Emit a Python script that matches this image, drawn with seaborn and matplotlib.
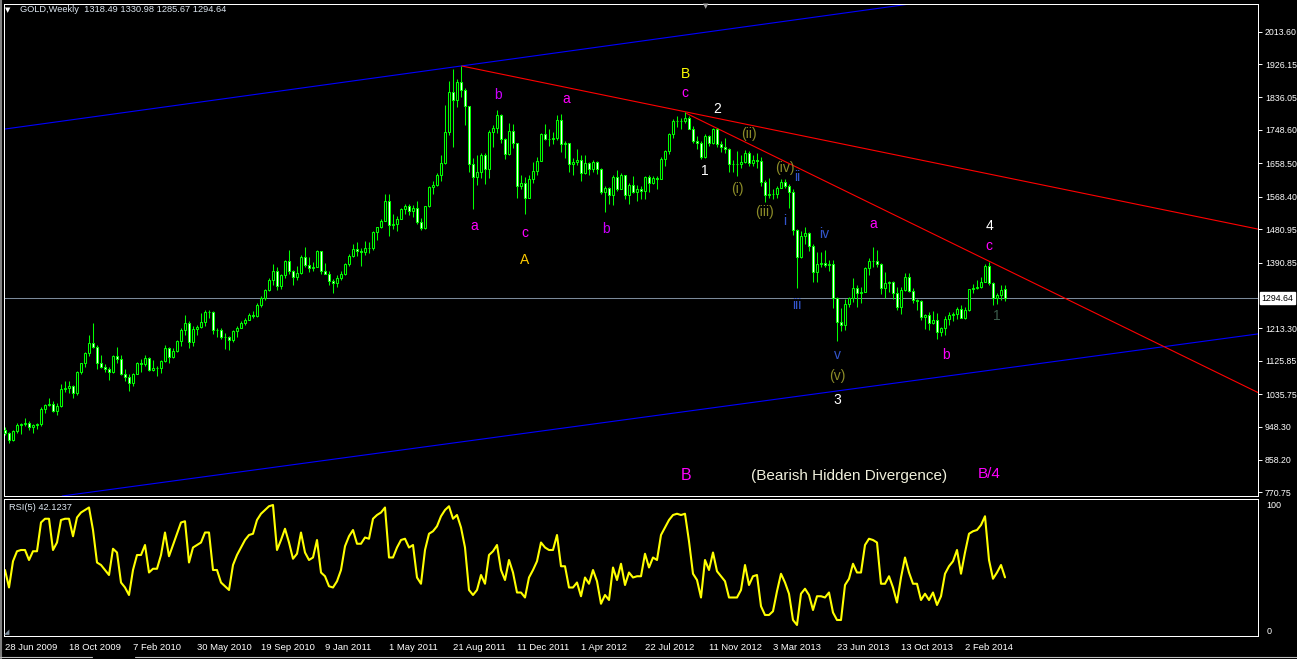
import numpy as np
import pandas as pd
import matplotlib
matplotlib.use("Agg")
import matplotlib.pyplot as plt
from matplotlib.lines import Line2D
import seaborn as sns

sns.set_theme(style="dark", rc={"axes.facecolor": "black", "figure.facecolor": "black"})
plt.rcParams['font.family'] = ['Liberation Sans', 'DejaVu Sans']

# ---------------- data (weekly GOLD candles) ----------------
opens = [
 940, 930, 912, 937, 953, 954, 958, 948, 953, 955,
 996, 1006, 1009, 991, 1004, 1050, 1052, 1057, 1040, 1095,
 1119, 1146, 1175, 1162, 1120, 1110, 1104, 1096, 1138, 1131,
 1091, 1083, 1066, 1091, 1119, 1118, 1134, 1102, 1107, 1105,
 1125, 1161, 1136, 1152, 1180, 1209, 1228, 1176, 1212, 1217,
 1229, 1257, 1256, 1210, 1209, 1189, 1189, 1181, 1205, 1215,
 1228, 1237, 1248, 1246, 1275, 1296, 1317, 1345, 1369, 1327,
 1357, 1394, 1367, 1353, 1362, 1406, 1385, 1375, 1380, 1421,
 1369, 1361, 1342, 1336, 1349, 1360, 1388, 1409, 1428, 1421,
 1419, 1429, 1430, 1474, 1486, 1504, 1556, 1491, 1494, 1509,
 1536, 1542, 1530, 1539, 1500, 1484, 1542, 1594, 1601, 1628,
 1658, 1744, 1852, 1828, 1877, 1856, 1812, 1657, 1622, 1636,
 1682, 1642, 1744, 1754, 1788, 1724, 1683, 1746, 1712, 1598,
 1606, 1566, 1617, 1639, 1665, 1738, 1725, 1725, 1726, 1775,
 1710, 1712, 1657, 1662, 1668, 1631, 1659, 1642, 1663, 1644,
 1580, 1592, 1572, 1622, 1590, 1627, 1572, 1600, 1582, 1590,
 1583, 1621, 1605, 1620, 1616, 1671, 1692, 1738, 1772, 1773,
 1772, 1780, 1752, 1718, 1712, 1676, 1731, 1714, 1751, 1711,
 1703, 1696, 1657, 1656, 1657, 1662, 1686, 1658, 1667, 1666,
 1609, 1572, 1576, 1577, 1592, 1608, 1596, 1581, 1478, 1405,
 1462, 1470, 1436, 1365, 1386, 1390, 1385, 1388, 1296, 1230,
 1223, 1280, 1294, 1322, 1309, 1312, 1375, 1396, 1395, 1388,
 1322, 1336, 1338, 1309, 1272, 1316, 1352, 1314, 1289, 1288,
 1244, 1250, 1228, 1235, 1203, 1213, 1238, 1250, 1252, 1266,
 1240, 1262, 1319, 1323, 1326, 1339, 1382, 1336, 1294, 1303,
 1318.49]
highs = [
 947, 934, 940, 958, 957, 972, 962, 955, 959, 1000,
 1010, 1024, 1017, 1011, 1062, 1071, 1070, 1061, 1099, 1120,
 1150, 1195, 1227, 1168, 1140, 1118, 1110, 1140, 1162, 1140,
 1103, 1089, 1094, 1123, 1131, 1141, 1136, 1128, 1112, 1127,
 1167, 1164, 1160, 1182, 1213, 1250, 1232, 1219, 1223, 1254,
 1264, 1262, 1261, 1215, 1215, 1201, 1193, 1208, 1219, 1234,
 1241, 1255, 1260, 1282, 1300, 1320, 1349, 1387, 1378, 1361,
 1398, 1424, 1370, 1381, 1411, 1432, 1407, 1392, 1424, 1422,
 1390, 1368, 1346, 1357, 1369, 1390, 1414, 1440, 1445, 1431,
 1448, 1447, 1476, 1488, 1509, 1576, 1577, 1522, 1516, 1538,
 1549, 1548, 1546, 1556, 1510, 1544, 1597, 1610, 1632, 1682,
 1815, 1880, 1913, 1885, 1921, 1862, 1814, 1672, 1680, 1686,
 1686, 1748, 1763, 1803, 1792, 1726, 1767, 1764, 1714, 1627,
 1622, 1626, 1661, 1675, 1741, 1764, 1750, 1744, 1790, 1792,
 1718, 1713, 1673, 1697, 1681, 1680, 1662, 1667, 1665, 1646,
 1598, 1595, 1627, 1641, 1631, 1628, 1605, 1625, 1600, 1598,
 1625, 1628, 1623, 1624, 1675, 1694, 1741, 1778, 1787, 1781,
 1796, 1787, 1760, 1733, 1720, 1737, 1736, 1755, 1755, 1720,
 1726, 1699, 1667, 1693, 1682, 1694, 1693, 1680, 1685, 1675,
 1613, 1619, 1590, 1597, 1616, 1616, 1604, 1588, 1480, 1476,
 1487, 1474, 1440, 1418, 1420, 1424, 1398, 1397, 1297, 1268,
 1293, 1298, 1348, 1330, 1324, 1380, 1402, 1433, 1424, 1389,
 1366, 1341, 1340, 1326, 1325, 1362, 1362, 1322, 1293, 1290,
 1253, 1256, 1261, 1255, 1217, 1247, 1256, 1256, 1272, 1275,
 1271, 1320, 1332, 1345, 1352, 1386, 1392, 1337, 1308, 1331,
 1330.98]
lows = [
 925, 904, 910, 931, 927, 950, 940, 930, 941, 949,
 986, 1004, 987, 980, 1000, 1042, 1039, 1025, 1033, 1091,
 1110, 1138, 1160, 1104, 1105, 1095, 1075, 1094, 1121, 1087,
 1072, 1045, 1057, 1090, 1096, 1111, 1097, 1097, 1086, 1094,
 1122, 1121, 1133, 1150, 1165, 1194, 1159, 1166, 1196, 1215,
 1220, 1240, 1198, 1189, 1185, 1157, 1155, 1176, 1190, 1213,
 1222, 1236, 1240, 1243, 1270, 1290, 1313, 1331, 1316, 1320,
 1349, 1361, 1330, 1343, 1361, 1380, 1366, 1368, 1378, 1360,
 1362, 1330, 1308, 1326, 1345, 1358, 1381, 1406, 1408, 1381,
 1411, 1416, 1424, 1452, 1484, 1503, 1462, 1480, 1477, 1508,
 1522, 1520, 1514, 1495, 1478, 1480, 1541, 1577, 1597, 1610,
 1656, 1736, 1702, 1811, 1838, 1761, 1635, 1535, 1600, 1618,
 1603, 1620, 1702, 1740, 1713, 1670, 1680, 1700, 1565, 1590,
 1523, 1564, 1606, 1628, 1665, 1722, 1706, 1710, 1722, 1688,
 1672, 1635, 1627, 1653, 1612, 1630, 1626, 1634, 1630, 1577,
 1527, 1550, 1545, 1583, 1590, 1562, 1549, 1578, 1557, 1562,
 1563, 1582, 1603, 1590, 1615, 1652, 1683, 1728, 1757, 1752,
 1767, 1751, 1714, 1696, 1671, 1672, 1705, 1711, 1702, 1688,
 1687, 1636, 1635, 1625, 1645, 1658, 1651, 1650, 1645, 1598,
 1554, 1565, 1562, 1565, 1591, 1593, 1539, 1465, 1321, 1402,
 1442, 1423, 1338, 1338, 1378, 1378, 1367, 1268, 1180, 1207,
 1210, 1270, 1285, 1270, 1281, 1310, 1357, 1378, 1378, 1306,
 1296, 1310, 1293, 1262, 1251, 1314, 1310, 1281, 1262, 1236,
 1211, 1208, 1224, 1185, 1193, 1195, 1221, 1232, 1238, 1240,
 1238, 1260, 1309, 1320, 1321, 1337, 1330, 1277, 1280, 1290,
 1285.67]
closes = [
 930, 912, 937, 953, 954, 958, 948, 953, 955, 996,
 1006, 1009, 991, 1004, 1050, 1052, 1057, 1040, 1095, 1119,
 1146, 1175, 1162, 1120, 1110, 1104, 1096, 1138, 1131, 1091,
 1083, 1066, 1091, 1119, 1118, 1134, 1102, 1107, 1105, 1125,
 1161, 1136, 1152, 1180, 1209, 1228, 1176, 1212, 1217, 1229,
 1257, 1256, 1210, 1209, 1189, 1189, 1181, 1205, 1215, 1228,
 1237, 1248, 1246, 1275, 1296, 1317, 1345, 1369, 1327, 1357,
 1394, 1367, 1353, 1362, 1406, 1385, 1375, 1380, 1421, 1369,
 1361, 1342, 1336, 1349, 1360, 1388, 1409, 1428, 1421, 1419,
 1429, 1430, 1474, 1486, 1504, 1556, 1491, 1494, 1509, 1536,
 1542, 1530, 1539, 1500, 1484, 1542, 1594, 1601, 1628, 1658,
 1744, 1852, 1828, 1877, 1856, 1812, 1657, 1622, 1636, 1682,
 1642, 1744, 1754, 1788, 1724, 1683, 1746, 1712, 1598, 1606,
 1566, 1617, 1639, 1665, 1738, 1725, 1725, 1726, 1775, 1710,
 1712, 1657, 1662, 1668, 1631, 1659, 1642, 1663, 1644, 1580,
 1592, 1572, 1622, 1590, 1627, 1572, 1600, 1582, 1590, 1583,
 1621, 1605, 1620, 1616, 1671, 1692, 1738, 1772, 1773, 1772,
 1780, 1752, 1718, 1712, 1676, 1731, 1714, 1751, 1711, 1703,
 1696, 1657, 1656, 1657, 1662, 1686, 1658, 1667, 1666, 1609,
 1572, 1576, 1577, 1592, 1608, 1596, 1581, 1478, 1405, 1462,
 1470, 1436, 1365, 1386, 1390, 1385, 1388, 1296, 1230, 1223,
 1280, 1294, 1322, 1309, 1312, 1375, 1396, 1395, 1388, 1322,
 1336, 1338, 1309, 1272, 1316, 1352, 1314, 1289, 1288, 1244,
 1250, 1228, 1235, 1203, 1213, 1238, 1250, 1252, 1266, 1240,
 1262, 1319, 1323, 1326, 1339, 1382, 1336, 1294, 1303, 1318,
 1294.64]
rsi5 = [
 48, 34, 55, 63, 64, 64, 56, 63, 63, 86,
 89, 89, 64, 70, 88, 89, 89, 75, 90, 94,
 96, 98, 80, 54, 52, 48, 44, 65, 62, 38,
 34, 28, 48, 60, 60, 68, 46, 49, 49, 60,
 78, 59, 68, 77, 86, 87, 54, 66, 68, 70,
 78, 78, 48, 48, 38, 35, 32, 52, 60, 66,
 72, 76, 77, 88, 93, 96, 99, 100, 64, 72,
 81, 70, 57, 61, 78, 62, 56, 58, 72, 46,
 43, 35, 34, 39, 48, 67, 75, 80, 69, 69,
 74, 73, 89, 92, 94, 98, 58, 58, 66, 72,
 73, 66, 68, 42, 37, 64, 77, 79, 83, 91,
 96, 99, 89, 92, 82, 66, 32, 28, 32, 44,
 37, 60, 63, 68, 48, 40, 56, 46, 30, 30,
 26, 42, 48, 55, 70, 66, 64, 64, 76, 51,
 51, 34, 34, 38, 27, 42, 37, 48, 39, 21,
 28, 24, 50, 40, 53, 36, 46, 42, 43, 43,
 61, 50, 58, 56, 76, 82, 88, 92, 93, 92,
 93, 71, 45, 40, 26, 56, 48, 62, 47, 43,
 39, 26, 26, 26, 32, 52, 36, 43, 44, 19,
 12, 12, 15, 31, 45, 38, 29, 8, 4, 29,
 33, 28, 16, 27, 27, 26, 30, 14, 8, 8,
 36, 41, 53, 46, 46, 68, 73, 72, 70, 37,
 37, 43, 34, 22, 42, 58, 46, 37, 37, 24,
 29, 24, 30, 20, 27, 45, 51, 55, 64, 45,
 62, 77, 79, 80, 84, 91, 56, 41, 46, 52,
 42.12]
date_labels = ["28 Jun 2009", "18 Oct 2009", "7 Feb 2010", "30 May 2010", "19 Sep 2010",
               "9 Jan 2011", "1 May 2011", "21 Aug 2011", "11 Dec 2011", "1 Apr 2012",
               "22 Jul 2012", "11 Nov 2012", "3 Mar 2013", "23 Jun 2013", "13 Oct 2013",
               "2 Feb 2014"]
price_ticks = [2013.60, 1926.15, 1836.05, 1748.60, 1658.50, 1568.40, 1480.95, 1390.85,
               1213.30, 1125.85, 1035.75, 948.30, 858.20, 770.75]
last_price = 1294.64

df = pd.DataFrame({"week": np.arange(len(closes)), "open": opens, "high": highs,
                   "low": lows, "close": closes, "rsi": rsi5})

# ---------------- layout ----------------
W, H = 1297, 659
fig = plt.figure(figsize=(W / 100, H / 100), dpi=100, facecolor="black")

def rect(x0, y0, x1, y1):
    return [x0 / W, 1 - y1 / H, (x1 - x0) / W, (y1 - y0) / H]

ax = fig.add_axes(rect(4, 4, 1258, 496))
ax2 = fig.add_axes(rect(4, 499, 1258, 636))
XLIM = (-0.25, 313.25)
for a in (ax, ax2):
    a.set_facecolor("black")
    a.set_xlim(*XLIM)
    a.grid(False)
    for s in a.spines.values():
        s.set_color("white")
        s.set_linewidth(0.72)
ax.set_ylim(760.9, 2088.3)
ax2.set_ylim(-4.8, 104.8)

GREEN = "#00ff00"
# candles
up = df["close"] >= df["open"]
ax.vlines(df["week"], df["low"], df["high"], color=GREEN, lw=0.75, zorder=3)
ax.bar(df["week"], df["close"] - df["open"], bottom=df["open"], width=0.5,
       color=np.where(up, "black", "white"), edgecolor=GREEN, linewidth=0.75, zorder=4)

# current price line
ax.axhline(last_price, color="#7b8a9a", lw=0.75, zorder=2)

# channel lines (blue) and trend lines (red)
ax.axline((0, 1751), (114, 1921), color="#0000ff", lw=0.8, zorder=2)
ax.axline((0, 740), (211.25, 1049), color="#0000ff", lw=0.8, zorder=2)
red1 = [(114.2, 1921), (313.25, 1481)]
red2 = [(170.4, 1793), (313.25, 1040)]
for seg in (red1, red2):
    ax.plot([seg[0][0], seg[1][0]], [seg[0][1], seg[1][1]], color="#ff0000", lw=0.8, zorder=2)

# wave labels
MAG = "#ff00ff"
PUR = "#cc00ff"
OLV = "#8c8c28"
BLU = "#3355cc"
WHT = "#ffffff"
wave_labels = [
    ("a", 117.25, 1489, MAG), ("b", 123.2, 1843, PUR), ("c", 130, 1470, MAG),
    ("a", 140.2, 1832, MAG), ("b", 150.2, 1481, PUR), ("A", 130, 1398, "#ffcc00"),
    ("B", 170, 1900, "#ffff00"), ("c", 170, 1848, MAG), ("2", 178, 1805, WHT),
    ("1", 175, 1639, WHT), ("(ii)", 186, 1738, OLV), ("(i)", 183, 1588, OLV),
    ("(iv)", 195, 1645, OLV), ("(iii)", 190, 1527, OLV), ("ii", 198, 1621, BLU),
    ("i", 195, 1503, BLU), ("iv", 204.8, 1468, BLU), ("iii", 198, 1276, BLU),
    ("v", 208, 1141, BLU), ("(v)", 208, 1085, OLV), ("3", 208, 1020, WHT),
    ("a", 217, 1495, MAG), ("b", 235.2, 1141, MAG), ("4", 246, 1490, WHT),
    ("c", 246, 1435, MAG), ("1", 248, 1246, "#3c5c4c"),
]
for txt, xi, yp, col in wave_labels:
    ax.text(xi, yp, txt, color=col, fontsize=10, ha="center", va="center", zorder=5)

ax.text(170.25, 815, "B", color=MAG, fontsize=11.5, ha="center", va="center")
ax.text(211, 815, "(Bearish Hidden Divergence)", color="#f0f0dc", fontsize=11, ha="center", va="center")
ax.text(246, 821, "B/4", color=MAG, fontsize=11, ha="center", va="center")

# price axis (right)
ax.yaxis.tick_right()
ax.set_yticks(price_ticks)
ax.set_yticklabels([f"{v:.2f}" for v in price_ticks])
ax.tick_params(axis="y", colors="white", labelcolor="white", labelsize=6.3, length=3,
               width=0.7, pad=2, direction="out", right=True, left=False)
ax.set_xticks([])
ax.annotate(f"{last_price:.2f}", xy=(1.0, last_price), xycoords=("axes fraction", "data"),
            xytext=(2.5, 0), textcoords="offset points", ha="left", va="center",
            fontsize=6.3, color="black",
            bbox=dict(boxstyle="square,pad=0.15", fc="white", ec="white"), annotation_clip=False)

# RSI panel
sns.lineplot(data=df, x="week", y="rsi", ax=ax2, color="#ffff00", lw=1.5)
ax2.set_xlabel("")
ax2.set_ylabel("")
ax2.yaxis.tick_right()
ax2.set_yticks([0, 100])
ax2.set_yticklabels(["0", "100"])
ax2.tick_params(axis="y", colors="black", labelcolor="white", labelsize=6.5, length=3,
                pad=3, right=True, left=False)
ax2.set_xticks(np.arange(len(date_labels)) * 16)
ax2.set_xticklabels(date_labels)
ax2.tick_params(axis="x", colors="white", labelcolor="white", labelsize=6.8, length=3,
                width=0.7, pad=2, direction="out")
for lab in ax2.get_xticklabels():
    lab.set_horizontalalignment("left")

# header texts
fig.text(8 / W, 1 - 10 / H, "▼", color="white", fontsize=5, ha="center", va="center",
         family="DejaVu Sans")
fig.text(20 / W, 1 - 10 / H, "GOLD,Weekly  1318.49 1330.98 1285.67 1294.64",
         color="#dce6f0", fontsize=6.7, ha="left", va="center")
fig.text(9 / W, 1 - 507 / H, "RSI(5) 42.1237", color="#dce6f0", fontsize=6.7,
         ha="left", va="center")
fig.text(706 / W, 1 - 6 / H, "▼", color="#a0a0a0", fontsize=5, ha="center", va="center",
         family="DejaVu Sans")
fig.text(7 / W, 1 - 632 / H, "◢", color="#8090a0", fontsize=5, ha="center", va="center",
         family="DejaVu Sans")

# window frame bits
fig.add_artist(Line2D([1 / W, 1 / W], [0, 1], color="#808080", lw=1.5, transform=fig.transFigure))
fig.add_artist(Line2D([0, 92 / W], [1 - 656.5 / H] * 2, color="#c0c0c0", lw=0.8, transform=fig.transFigure))
fig.add_artist(Line2D([135 / W, 1], [1 - 656.5 / H] * 2, color="#c0c0c0", lw=0.8, transform=fig.transFigure))

fig.savefig("out.png", dpi=100, facecolor="black")
